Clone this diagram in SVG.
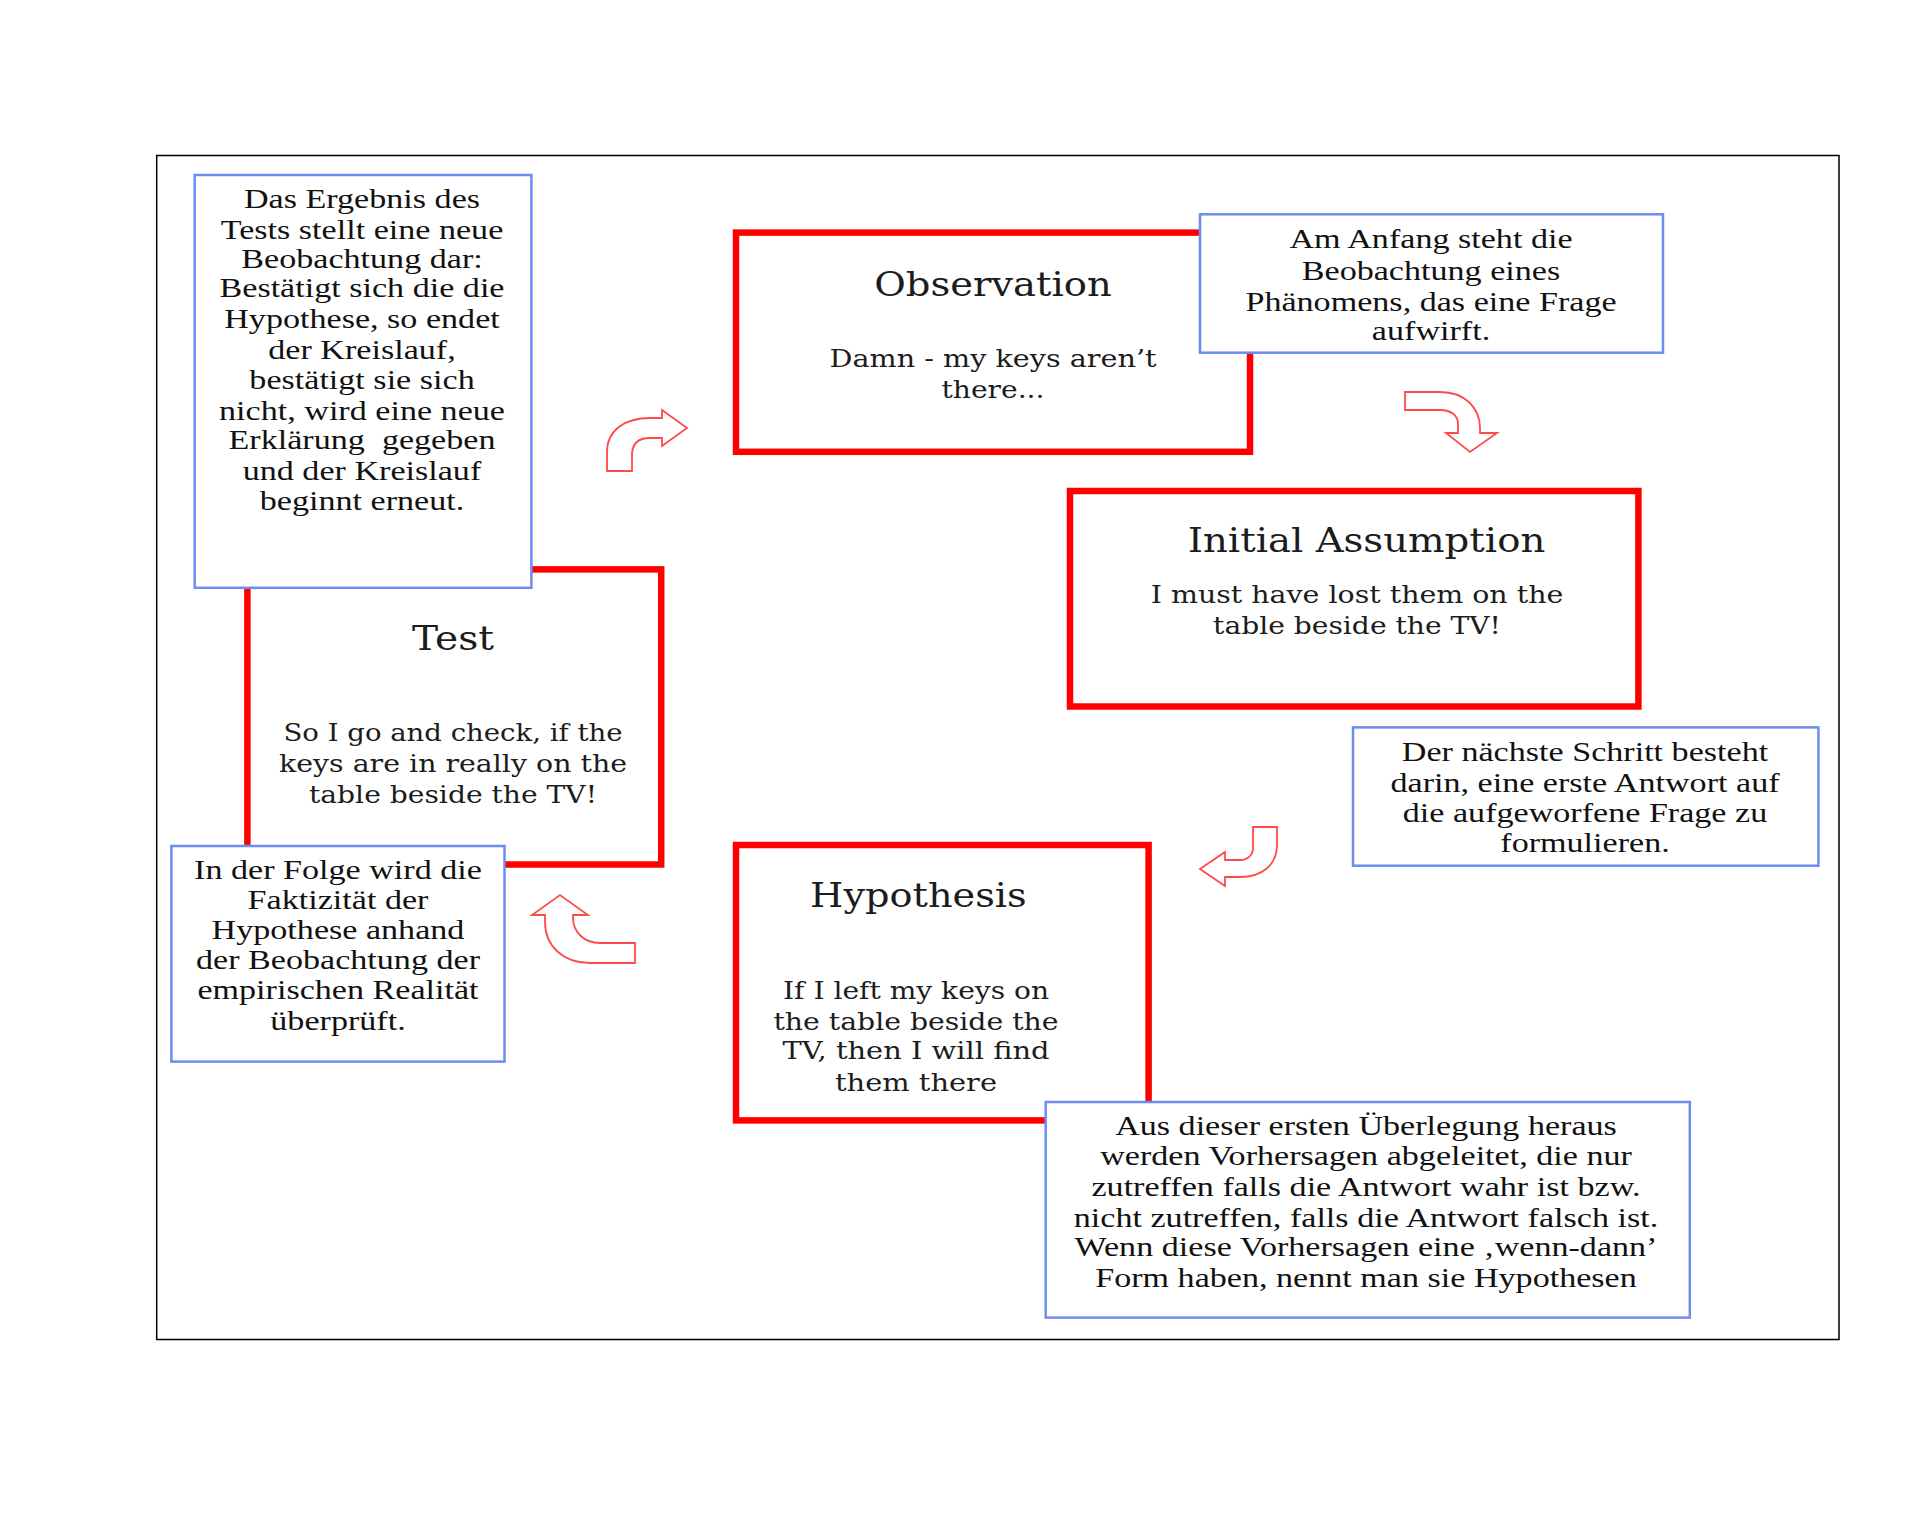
<svg xmlns="http://www.w3.org/2000/svg" width="1920" height="1536" viewBox="0 0 1920 1536">
  <style>
    .step { fill: #ffffff; stroke: #ff0000; stroke-width: 6.5; }
    .note { fill: #ffffff; stroke: #6b8cf0; stroke-width: 2.5; }
    .frame { fill: none; stroke: #000000; stroke-width: 1.5; }
    .title { font-family: "DejaVu Serif", "Liberation Serif", serif; font-size: 33px; fill: #1c1c1c; text-anchor: middle; }
    .body { font-family: "DejaVu Serif", "Liberation Serif", serif; font-size: 24px; fill: #1c1c1c; text-anchor: middle; }
    .ntext { font-family: "Liberation Serif", "Times New Roman", serif; font-size: 27.5px; fill: #111111; text-anchor: middle; }
    .flow { fill: #ffffff; stroke: #ff4a4a; stroke-width: 1.8; stroke-linejoin: miter; }
  </style>

  <rect x="0" y="0" width="1920" height="1536" fill="#ffffff"/>
  <rect class="frame" x="156.7" y="155.5" width="1682.3" height="1184"/>

  <!-- cycle steps (red boxes) -->
  <g id="observation">
    <rect class="step" x="736" y="232.6" width="514" height="219.2"/>
    <text class="title" x="993" y="296" textLength="237.6" lengthAdjust="spacingAndGlyphs">Observation</text>
    <text class="body" x="993" y="367" textLength="327" lengthAdjust="spacingAndGlyphs">Damn - my keys aren’t</text>
    <text class="body" x="993" y="398" textLength="103" lengthAdjust="spacingAndGlyphs">there...</text>
  </g>

  <g id="initial-assumption">
    <rect class="step" x="1070" y="491" width="568.4" height="215.5"/>
    <text class="title" x="1366.5" y="552" textLength="357.6" lengthAdjust="spacingAndGlyphs">Initial Assumption</text>
    <text class="body" x="1357" y="602.5" textLength="412.6" lengthAdjust="spacingAndGlyphs">I must have lost them on the</text>
    <text class="body" x="1357" y="634" textLength="287.8" lengthAdjust="spacingAndGlyphs">table beside the TV!</text>
  </g>

  <g id="hypothesis">
    <rect class="step" x="736" y="845" width="412.6" height="275.4"/>
    <text class="title" x="918.4" y="907" textLength="216.7" lengthAdjust="spacingAndGlyphs">Hypothesis</text>
    <text class="body" x="916" y="999" textLength="266" lengthAdjust="spacingAndGlyphs">If I left my keys on</text>
    <text class="body" x="916" y="1029.6" textLength="285" lengthAdjust="spacingAndGlyphs">the table beside the</text>
    <text class="body" x="916" y="1059" textLength="267" lengthAdjust="spacingAndGlyphs">TV, then I will find</text>
    <text class="body" x="916" y="1091" textLength="162" lengthAdjust="spacingAndGlyphs">them there</text>
  </g>

  <g id="test">
    <rect class="step" x="247.4" y="569.4" width="413.8" height="295.1"/>
    <text class="title" x="453" y="650" textLength="82" lengthAdjust="spacingAndGlyphs">Test</text>
    <text class="body" x="453" y="741" textLength="339" lengthAdjust="spacingAndGlyphs">So I go and check, if the</text>
    <text class="body" x="453" y="771.5" textLength="348" lengthAdjust="spacingAndGlyphs">keys are in really on the</text>
    <text class="body" x="453" y="803" textLength="288" lengthAdjust="spacingAndGlyphs">table beside the TV!</text>
  </g>

  <!-- explanatory notes (blue boxes) -->
  <g id="note-result">
    <rect class="note" x="194.7" y="175" width="336.7" height="412.8"/>
    <g transform="translate(362 2.5) scale(1.24 1)">
      <text class="ntext" x="0" y="205.7">Das Ergebnis des</text>
      <text class="ntext" x="0" y="236.3">Tests stellt eine neue</text>
      <text class="ntext" x="0" y="265.7">Beobachtung dar:</text>
      <text class="ntext" x="0" y="295">Bestätigt sich die die</text>
      <text class="ntext" x="0" y="325.7">Hypothese, so endet</text>
      <text class="ntext" x="0" y="356.3">der Kreislauf,</text>
      <text class="ntext" x="0" y="387">bestätigt sie sich</text>
      <text class="ntext" x="0" y="417.5">nicht, wird eine neue</text>
      <text class="ntext" x="0" y="447" xml:space="preserve">Erklärung  gegeben</text>
      <text class="ntext" x="0" y="477.5">und der Kreislauf</text>
      <text class="ntext" x="0" y="508">beginnt erneut.</text>
    </g>
  </g>

  <g id="note-observation">
    <rect class="note" x="1200" y="214.3" width="463" height="138.4"/>
    <g transform="translate(1431 2.5) scale(1.24 1)">
      <text class="ntext" x="0" y="246">Am Anfang steht die</text>
      <text class="ntext" x="0" y="277">Beobachtung eines</text>
      <text class="ntext" x="0" y="308.5">Phänomens, das eine Frage</text>
      <text class="ntext" x="0" y="338">aufwirft.</text>
    </g>
  </g>

  <g id="note-assumption">
    <rect class="note" x="1353" y="727.4" width="465.4" height="138.3"/>
    <g transform="translate(1585 2.5) scale(1.24 1)">
      <text class="ntext" x="0" y="759">Der nächste Schritt besteht</text>
      <text class="ntext" x="0" y="790">darin, eine erste Antwort auf</text>
      <text class="ntext" x="0" y="820">die aufgeworfene Frage zu</text>
      <text class="ntext" x="0" y="850">formulieren.</text>
    </g>
  </g>

  <g id="note-hypothesis">
    <rect class="note" x="1045.7" y="1102" width="644.1" height="215.6"/>
    <g transform="translate(1366 2.5) scale(1.24 1)">
      <text class="ntext" x="0" y="1133">Aus dieser ersten Überlegung heraus</text>
      <text class="ntext" x="0" y="1163">werden Vorhersagen abgeleitet, die nur</text>
      <text class="ntext" x="0" y="1194">zutreffen falls die Antwort wahr ist bzw.</text>
      <text class="ntext" x="0" y="1224.5">nicht zutreffen, falls die Antwort falsch ist.</text>
      <text class="ntext" x="0" y="1254">Wenn diese Vorhersagen eine ‚wenn-dann’</text>
      <text class="ntext" x="0" y="1284.5">Form haben, nennt man sie Hypothesen</text>
    </g>
  </g>

  <g id="note-test">
    <rect class="note" x="171.4" y="846" width="333.1" height="215.6"/>
    <g transform="translate(338 2.5) scale(1.24 1)">
      <text class="ntext" x="0" y="877">In der Folge wird die</text>
      <text class="ntext" x="0" y="907">Faktizität der</text>
      <text class="ntext" x="0" y="937">Hypothese anhand</text>
      <text class="ntext" x="0" y="967">der Beobachtung der</text>
      <text class="ntext" x="0" y="997">empirischen Realität</text>
      <text class="ntext" x="0" y="1027.5">überprüft.</text>
    </g>
  </g>

  <!-- curved block arrows between the steps -->
  <g id="connectors">
    <path class="flow" d="M607,471 L607,452 C607,430 625,418 650,418 L662,418 L662,410 L687,428 L662,446 L662,438 L650,438 C638,438 632,444 632,455 L632,471 Z"/>
    <path class="flow" d="M1405,392 L1440,392 C1465,392 1480,408 1480,428 L1480,433 L1497,433 L1470,452 L1446,433 L1458,433 L1458,424 C1458,416 1452,410 1440,410 L1405,410 Z"/>
    <path class="flow" d="M1253,827 L1277,827 L1277,845 C1277,865 1262,877 1240,877 L1225,877 L1225,886 L1200,869 L1225,852 L1225,860 L1240,860 C1248,860 1253,855 1253,848 Z"/>
    <path class="flow" d="M635,943 L600,943 C584,943 573,932 573,918 L573,915 L588,915 L560,895 L532,915 L545,915 L545,922 C545,946 563,963 590,963 L635,963 Z"/>
  </g>
</svg>
